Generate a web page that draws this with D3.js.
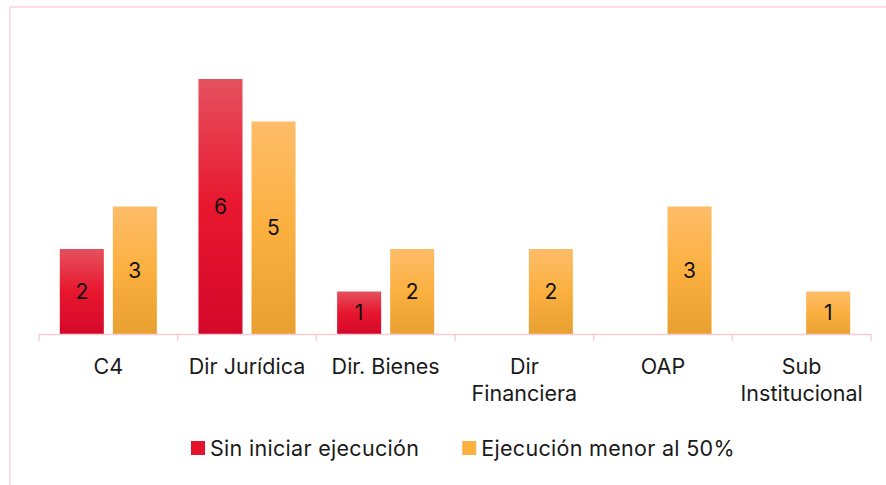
<!DOCTYPE html>
<html>
<head>
<meta charset="utf-8">
<script src="https://cdn.jsdelivr.net/npm/d3@7.9.0/dist/d3.min.js"></script>
<style>
  body { margin: 0; background: #fff; }
  svg { display: block; font-family: Inter, "Open Sans", sans-serif; }
</style>
</head>
<body>
<svg id="chart" width="886" height="485"></svg>
<script>
const categories = ["C4", "Dir Jurídica", "Dir. Bienes", "Dir Financiera", "OAP", "Sub Institucional"];
const tickLines = [["C4"], ["Dir Jurídica"], ["Dir. Bienes"], ["Dir", "Financiera"], ["OAP"], ["Sub", "Institucional"]];
const seriesNames = ["Sin iniciar ejecución", "Ejecución menor al 50%"];
const sinIniciar = [2, 6, 1, 0, 0, 0];
const menor50 = [3, 5, 2, 2, 3, 1];

const svg = d3.select('#chart');
const fontSize = 21.5;

// outer chart border (pink, cut at right/bottom)
svg.append('rect')
    .attr('x', 10).attr('y', 7)
    .attr('width', 900).attr('height', 500)
    .attr('fill', 'none')
    .attr('stroke', '#fddde3')
    .attr('stroke-width', 2);

const defs = svg.append('defs');
const gradients = [
    { id: 'gRed', stops: ['#e5515e', '#e8172f', '#d4082a'] },
    { id: 'gOrange', stops: ['#fdbc68', '#fbb040', '#e8a030'] }
];
gradients.forEach(g => {
    const lg = defs.append('linearGradient')
        .attr('id', g.id)
        .attr('x1', 0).attr('y1', 0).attr('x2', 0).attr('y2', 1);
    g.stops.forEach((c, i) => {
        lg.append('stop').attr('offset', `${i * 50}%`).attr('stop-color', c);
    });
});

const x = d3.scaleBand().domain(categories).range([39, 871]).padding(0);
const x1 = d3.scaleBand().domain(seriesNames)
    .range([20.8, x.bandwidth() - 20.8])
    .paddingInner(0.17);
const y = d3.scaleLinear().domain([0, 7]).range([334, 36.5]);

const data = categories.map((c, i) => ({
    cat: c,
    values: [
        { key: seriesNames[0], value: sinIniciar[i], fill: 'url(#gRed)' },
        { key: seriesNames[1], value: menor50[i], fill: 'url(#gOrange)' }
    ]
}));

const groups = svg.append('g').selectAll('g')
    .data(data)
    .join('g')
    .attr('transform', d => `translate(${x(d.cat)},0)`);

const bars = groups.selectAll('g')
    .data(d => d.values.filter(v => v.value > 0))
    .join('g');

bars.append('rect')
    .attr('x', d => x1(d.key))
    .attr('y', d => y(d.value))
    .attr('width', x1.bandwidth())
    .attr('height', d => y(0) - y(d.value))
    .attr('fill', d => d.fill);

bars.append('text')
    .attr('x', d => x1(d.key) + x1.bandwidth() / 2)
    .attr('y', d => (y(d.value) + y(0)) / 2)
    .attr('dy', '0.36em')
    .attr('text-anchor', 'middle')
    .attr('font-size', 21)
    .attr('fill', '#111')
    .text(d => d.value);

// x axis line and boundary ticks
const axisColor = '#f8cdd4';
const axisG = svg.append('g');
axisG.append('line')
    .attr('x1', x.range()[0]).attr('x2', x.range()[1])
    .attr('y1', y(0) + 0.5).attr('y2', y(0) + 0.5)
    .attr('stroke', axisColor).attr('stroke-width', 1.5);
const bounds = categories.map(c => x(c)).concat([x.range()[1]]);
axisG.selectAll('.btick')
    .data(bounds)
    .join('line')
    .attr('x1', d => d).attr('x2', d => d)
    .attr('y1', y(0)).attr('y2', y(0) + 7)
    .attr('stroke', axisColor).attr('stroke-width', 1.5);

// category labels
svg.append('g').selectAll('text')
    .data(categories)
    .join('text')
    .attr('text-anchor', 'middle')
    .attr('font-size', fontSize)
    .attr('fill', '#1a1a1a')
    .each(function (c, i) {
        const t = d3.select(this);
        tickLines[i].forEach((line, j) => {
            t.append('tspan')
                .attr('x', x(c) + x.bandwidth() / 2)
                .attr('y', 374 + j * 27)
                .text(line);
        });
    });

// legend
const legendColors = ['#e4142f', '#fbb040'];
const legend = svg.append('g');
let lx = 191;
seriesNames.forEach((name, i) => {
    legend.append('rect')
        .attr('x', lx).attr('y', 441)
        .attr('width', 14).attr('height', 14)
        .attr('fill', legendColors[i]);
    const t = legend.append('text')
        .attr('x', lx + 19).attr('y', 456)
        .attr('font-size', fontSize)
        .attr('letter-spacing', 0.3)
        .attr('fill', '#1a1a1a')
        .text(name);
    lx = lx + 19 + t.node().getComputedTextLength() + 43;
});
</script>
</body>
</html>
